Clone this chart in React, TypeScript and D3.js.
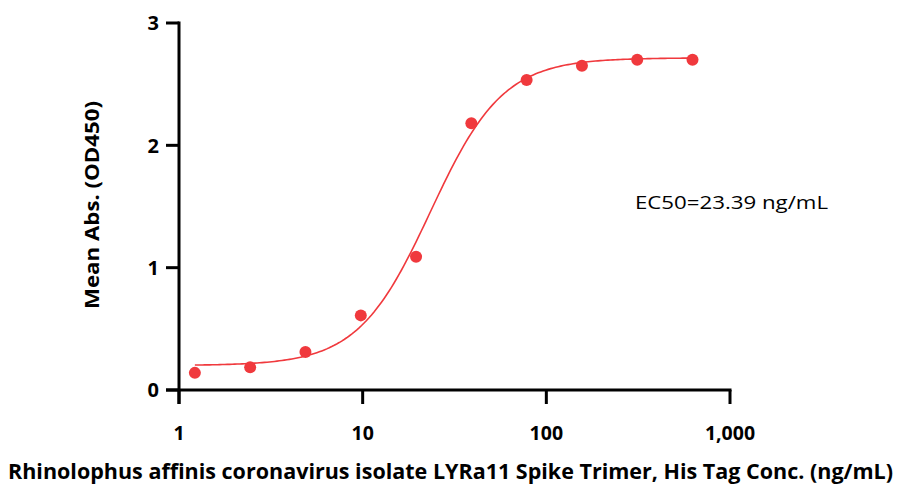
import React from "react";
import * as d3 from "d3";

const concentrations = [1.22, 2.44, 4.88, 9.77, 19.53, 39.06, 78.13, 156.25, 312.5, 625];
const absorbances = [0.14, 0.185, 0.31, 0.61, 1.09, 2.18, 2.535, 2.65, 2.70, 2.70];
const fitParams = { bottom: 0.2, top: 2.715, ec50: 23.39, hill: 2.2 };
const xTicks = [1, 10, 100, 1000];
const yTicks = [0, 1, 2, 3];

const W = 902;
const H = 495;
const RED = "#F0393D";
const FONT = "'Open Sans', 'Noto Sans', sans-serif";

export default function App() {
  const x = d3.scaleLog().domain([1, 1000]).range([179, 730]);
  const y = d3.scaleLinear().domain([0, 3]).range([390, 23]);
  const fit = (c: number) =>
    fitParams.bottom +
    (fitParams.top - fitParams.bottom) / (1 + Math.pow(fitParams.ec50 / c, fitParams.hill));
  const lo = Math.log10(concentrations[0]);
  const hi = Math.log10(concentrations[concentrations.length - 1]);
  const curvePts = d3.range(0, 201).map((i) => Math.pow(10, lo + ((hi - lo) * i) / 200));
  const line = d3
    .line<number>()
    .x((c) => x(c))
    .y((c) => y(fit(c)))
    .curve(d3.curveLinear);
  const fmt = d3.format(",");

  return (
    <svg width={W} height={H} style={{ position: "absolute", left: 0, top: 0, background: "#fff" }}>
      <rect width={W} height={H} fill="#fff" />
      {/* axes */}
      <line x1={179} x2={179} y1={y(3) - 1.5} y2={404} stroke="#000" strokeWidth={3} />
      <line x1={166} x2={731.5} y1={390} y2={390} stroke="#000" strokeWidth={3} />
      {yTicks.map((t) => (
        <g key={"y" + t}>
          <line x1={166} x2={179} y1={y(t)} y2={y(t)} stroke="#000" strokeWidth={3} />
          <text
            x={159}
            y={y(t)}
            dy="0.36em"
            textAnchor="end"
            fontFamily={FONT}
            fontWeight="bold"
            fontSize={20}
          >
            {t}
          </text>
        </g>
      ))}
      {xTicks.map((t) => (
        <g key={"x" + t}>
          <line x1={x(t)} x2={x(t)} y1={390} y2={404} stroke="#000" strokeWidth={3} />
          <text
            x={x(t)}
            y={440}
            textAnchor="middle"
            fontFamily={FONT}
            fontWeight="bold"
            fontSize={19.5}
          >
            {fmt(t)}
          </text>
        </g>
      ))}
      {/* fit curve */}
      <path d={line(curvePts) || ""} fill="none" stroke={RED} strokeWidth={1.6} />
      {/* points */}
      {concentrations.map((c, i) => (
        <circle key={i} cx={x(c)} cy={y(absorbances[i])} r={6} fill={RED} />
      ))}
      {/* labels */}
      <text
        transform="translate(99,205) rotate(-90)"
        textAnchor="middle"
        fontFamily={FONT}
        fontWeight="bold"
        fontSize={19.5}
        textLength={208}
        lengthAdjust="spacingAndGlyphs"
      >
        Mean Abs. (OD450)
      </text>
      <text
        x={635}
        y={209}
        fontFamily={FONT}
        fontSize={18}
        textLength={193}
        lengthAdjust="spacingAndGlyphs"
      >
        EC50=23.39 ng/mL
      </text>
      <text
        x={8}
        y={479}
        fontFamily={FONT}
        fontWeight="bold"
        fontSize={20.5}
        textLength={885}
        lengthAdjust="spacingAndGlyphs"
      >
        Rhinolophus affinis coronavirus isolate LYRa11 Spike Trimer, His Tag Conc. (ng/mL)
      </text>
    </svg>
  );
}
